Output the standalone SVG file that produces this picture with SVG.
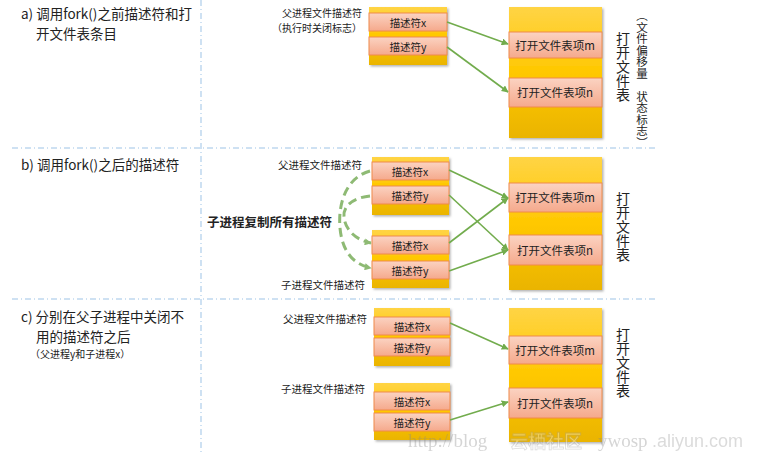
<svg xmlns="http://www.w3.org/2000/svg" width="761" height="453" viewBox="0 0 761 453">
<defs>
<linearGradient id="gy" x1="0" y1="0" x2="0" y2="1">
<stop offset="0" stop-color="#ffd445"/>
<stop offset="0.5" stop-color="#ffc800"/>
<stop offset="1" stop-color="#eab400"/>
</linearGradient>
<linearGradient id="gs" x1="0" y1="0" x2="0" y2="1">
<stop offset="0" stop-color="#fbd3c2"/>
<stop offset="1" stop-color="#f5a98c"/>
</linearGradient>
<filter id="sh" x="-10%" y="-10%" width="130%" height="130%">
<feDropShadow dx="1.5" dy="1.5" stdDeviation="1.2" flood-color="#000" flood-opacity="0.3"/>
</filter>
<marker id="ah" viewBox="0 0 10 10" refX="9" refY="5" markerWidth="7" markerHeight="7" orient="auto" markerUnits="userSpaceOnUse">
<path d="M0,0 L10,5 L0,10 z" fill="#72ac4d"/>
</marker>
<marker id="ahd" viewBox="0 0 10 10" refX="9" refY="5" markerWidth="7" markerHeight="7" orient="auto" markerUnits="userSpaceOnUse">
<path d="M0,0 L10,5 L0,10 z" fill="#82b366"/>
</marker>
</defs>
<style>
text{font-family:"Noto Sans CJK SC","Liberation Sans",sans-serif;fill:#222}
.t{font-size:13.5px}
.s{font-size:10.5px}
.e{font-size:10.5px;text-anchor:middle;dominant-baseline:central}
.f{font-size:11.5px;text-anchor:middle;dominant-baseline:central}
.box{fill:url(#gy);filter:url(#sh)}
.ent{fill:url(#gs);stroke:#f08a4b;stroke-width:1}
.sep{stroke:#9dc3e6;stroke-width:1;stroke-dasharray:6 3 1 3;fill:none}
.ar{stroke:#72ac4d;stroke-width:1.6;fill:none;marker-end:url(#ah)}
.dar{stroke:#82b366;stroke-width:3;stroke-dasharray:9 5;fill:none;marker-end:url(#ahd);opacity:0.9}
.v{font-size:14px;writing-mode:tb}
.wm{font-family:"Liberation Serif",serif;font-size:19px;fill:#888}
.wm2{font-family:"Liberation Sans",sans-serif;font-size:18px;fill:#999}
</style>

<g id="separators">
<line class="sep" x1="201" y1="0" x2="201" y2="453"/>
<line class="sep" x1="12" y1="148" x2="658" y2="148"/>
<line class="sep" x1="12" y1="299" x2="658" y2="299"/>
</g>

<!-- Section a -->
<g id="title-a">
<text class="t" x="21" y="19">a) 调用fork()之前描述符和打</text>
<text class="t" x="36" y="39">开文件表条目</text>
</g>
<g id="label-a">
<text x="362" y="17" font-size="10" text-anchor="end">父进程文件描述符</text>
<text x="362" y="31.5" font-size="10" text-anchor="end">（执行时关闭标志）</text>
</g>
<g id="fd-a">
<rect class="box" x="369" y="7" width="78" height="58"/>
<rect class="ent" x="369" y="13" width="78" height="18"/>
<text class="e" x="408" y="22">描述符x</text>
<rect class="ent" x="369" y="37" width="78" height="18"/>
<text class="e" x="408" y="46">描述符y</text>
</g>
<g id="oft-a">
<rect class="box" x="509" y="7" width="93" height="131"/>
<rect class="ent" x="509" y="32" width="93" height="26"/>
<text class="f" x="555" y="45">打开文件表项m</text>
<rect class="ent" x="509" y="78" width="93" height="29"/>
<text class="f" x="555" y="92">打开文件表项n</text>
</g>
<g id="oft-a-label">
<text class="v" x="623" y="32">打开文件表</text>
<text x="642" y="10" font-size="11.5" writing-mode="tb">（文件偏移量　状态标志）</text>
</g>

<!-- Section b -->
<g id="title-b">
<text class="t" x="21" y="170">b) 调用fork()之后的描述符</text>
</g>
<g id="label-b">
<text class="s" x="362" y="169" text-anchor="end">父进程文件描述符</text>
<text class="s" x="365" y="289" text-anchor="end">子进程文件描述符</text>
<text x="207" y="227" font-size="12.5" font-weight="bold">子进程复制所有描述符</text>
</g>
<g id="fd-b-parent">
<rect class="box" x="372" y="157" width="77" height="58"/>
<rect class="ent" x="372" y="162" width="77" height="18"/>
<text class="e" x="410" y="171">描述符x</text>
<rect class="ent" x="372" y="186" width="77" height="18"/>
<text class="e" x="410" y="195">描述符y</text>
</g>
<g id="fd-b-child">
<rect class="box" x="372" y="230" width="77" height="58"/>
<rect class="ent" x="372" y="236" width="77" height="18"/>
<text class="e" x="410" y="245">描述符x</text>
<rect class="ent" x="372" y="261" width="77" height="18"/>
<text class="e" x="410" y="270">描述符y</text>
</g>
<g id="oft-b">
<rect class="box" x="509" y="157" width="93" height="133"/>
<rect class="ent" x="509" y="183" width="93" height="29"/>
<text class="f" x="555" y="197">打开文件表项m</text>
<rect class="ent" x="509" y="235" width="93" height="30"/>
<text class="f" x="555" y="250">打开文件表项n</text>
</g>
<g id="oft-b-label">
<text class="v" x="623" y="192">打开文件表</text>
</g>

<!-- Section c -->
<g id="title-c">
<text class="t" x="21" y="322">c) 分别在父子进程中关闭不</text>
<text class="t" x="36" y="342">用的描述符之后</text>
<text x="30" y="358" font-size="10">（父进程y和子进程x）</text>
</g>
<g id="label-c">
<text class="s" x="367" y="323" text-anchor="end">父进程文件描述符</text>
<text class="s" x="365" y="393" text-anchor="end">子进程文件描述符</text>
</g>
<g id="fd-c-parent">
<rect class="box" x="374" y="308" width="76" height="58"/>
<rect class="ent" x="374" y="317" width="76" height="18"/>
<text class="e" x="412" y="326">描述符x</text>
<rect class="ent" x="374" y="338" width="76" height="18"/>
<text class="e" x="412" y="347">描述符y</text>
</g>
<g id="fd-c-child">
<rect class="box" x="374" y="383" width="76" height="57"/>
<rect class="ent" x="374" y="392" width="76" height="18"/>
<text class="e" x="412" y="401">描述符x</text>
<rect class="ent" x="374" y="413" width="76" height="18"/>
<text class="e" x="412" y="422">描述符y</text>
</g>
<g id="oft-c">
<rect class="box" x="509" y="308" width="93" height="134"/>
<rect class="ent" x="509" y="336" width="93" height="28"/>
<text class="f" x="555" y="350">打开文件表项m</text>
<rect class="ent" x="509" y="388" width="93" height="30"/>
<text class="f" x="555" y="403">打开文件表项n</text>
</g>
<g id="oft-c-label">
<text class="v" x="623" y="328">打开文件表</text>
</g>

<g id="connectors">
<line class="ar" x1="447" y1="22" x2="508" y2="44"/>
<line class="ar" x1="447" y1="47" x2="508" y2="92"/>
<line class="ar" x1="449" y1="170" x2="508" y2="198"/>
<line class="ar" x1="449" y1="195" x2="508" y2="250"/>
<line class="ar" x1="449" y1="243" x2="508" y2="198"/>
<line class="ar" x1="449" y1="271" x2="508" y2="250"/>
<line class="ar" x1="450" y1="323" x2="508" y2="349"/>
<line class="ar" x1="450" y1="420" x2="508" y2="402"/>
<path class="dar" d="M370,171 C345,178 338,205 340,228 C342,250 352,264 371,268"/>
<path class="dar" d="M370,196 C350,198 343,208 344,217 C345,229 355,240 371,243"/>
</g>

<g id="watermark" opacity="0.35">
<text class="wm" x="408" y="447">http://blog</text>
<text x="510" y="448" style="font-size:18px;font-weight:bold;fill:#fff;stroke:#999;stroke-width:0.8">云栖社区</text>
<text class="wm" x="598" y="447">ywosp</text>
<text class="wm2" x="652" y="447">.aliyun.com</text>
</g>
</svg>
